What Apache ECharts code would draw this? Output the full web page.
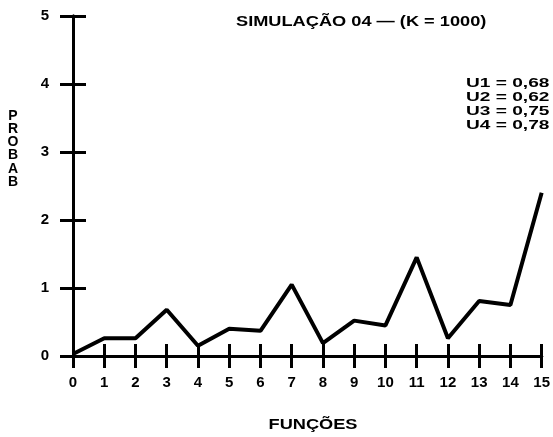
<!DOCTYPE html>
<html><head><meta charset="utf-8">
<script src="https://cdn.jsdelivr.net/npm/echarts@6/dist/echarts.min.js"></script>
<style>html,body{margin:0;padding:0;background:#fff}#c{width:553px;height:437px}</style>
</head><body><div id="c"></div>
<script>
const categories = [0,1,2,3,4,5,6,7,8,9,10,11,12,13,14,15];
const probab = [0.03,0.26,0.26,0.68,0.15,0.40,0.37,1.05,0.19,0.52,0.45,1.45,0.26,0.81,0.75,2.40];
const yTicks = [0,1,2,3,4,5];
const title = 'SIMULAÇÃO 04 — (K = 1000)';
const uLines = ['U1 = 0,68','U2 = 0,62','U3 = 0,75','U4 = 0,78'];
const yLabel = 'PROBAB';
const xLabel = 'FUNÇÕES';

const F = 'Liberation Sans, Arial, sans-serif';
const chart = echarts.init(document.getElementById('c'));
const lbl = {color:'#000', fontFamily:F, fontWeight:'bold', fontSize:15};
function xa(inside, show){
  return {type:'value', min:0, max:15, interval:1, position:'bottom',
    axisLine:{show:true, onZero:false, lineStyle:{color:'#000', width:3}},
    axisTick:{show:true, inside:inside, length:12, lineStyle:{color:'#000', width:3}},
    axisLabel:{show:show, margin:19, ...lbl, formatter:v=>categories.includes(v)?String(v):''},
    splitLine:{show:false}};
}
function ya(inside, show){
  return {type:'value', min:0, max:5, interval:1, position:'left',
    axisLine:{show:true, onZero:false, lineStyle:{color:'#000', width:3}},
    axisTick:{show:true, inside:inside, length:13, lineStyle:{color:'#000', width:3}},
    axisLabel:{show:show, margin:24, ...lbl, formatter:v=>yTicks.includes(v)?String(v):''},
    splitLine:{show:false}};
}
chart.setOption({
  animation:false,
  backgroundColor:'#fff',
  grid:{left:73, right:6, top:16, bottom:81, containLabel:false},
  xAxis:[xa(false,true), xa(true,false)],
  yAxis:[ya(false,true), ya(true,false)],
  series:[{type:'line', xAxisIndex:0, yAxisIndex:0,
    data: categories.map((c,i)=>[c, probab[i]]),
    symbol:'none', lineStyle:{color:'#000', width:4}, clip:false}],
  graphic:[
    {type:'text', x:236, y:22, scaleX:1.3, style:{text:title, fill:'#000', font:'bold 14px '+F, verticalAlign:'middle', align:'left'}},
    {type:'text', x:466, y:76, scaleX:1.47, style:{text:uLines.join('\n'), fill:'#000', font:'bold 13px '+F, lineHeight:14, align:'left', verticalAlign:'top'}},
    {type:'text', x:13, y:109, style:{text:yLabel.split('').join('\n'), fill:'#000', font:'bold 14px '+F, lineHeight:13.3, align:'center', verticalAlign:'top'}},
    {type:'text', x:313, y:425, scaleX:1.3, originX:0, style:{text:xLabel, fill:'#000', font:'bold 14px '+F, align:'center', verticalAlign:'middle'}}
  ]
});
</script></body></html>
